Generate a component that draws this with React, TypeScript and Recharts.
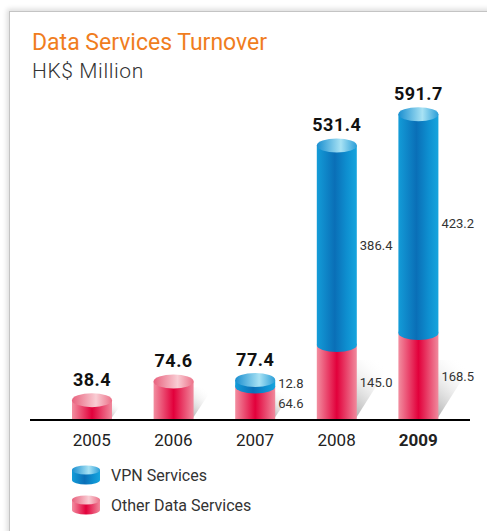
import { BarChart, Bar, XAxis, YAxis, LabelList } from "recharts";

const years = ["2005", "2006", "2007", "2008", "2009"];
const vpnValues = [0, 0, 12.8, 386.4, 423.2];
const otherValues = [38.4, 74.6, 64.6, 145.0, 168.5];
const totals = [38.4, 74.6, 77.4, 531.4, 591.7];
const boldYear = "2009";

const chartData = years.map((year, i) => ({
  year,
  vpn: vpnValues[i],
  other: otherValues[i],
  total: totals[i],
}));

const FONT = "Roboto, 'DejaVu Sans', sans-serif";
const RY = 7;

function Defs() {
  return (
    <defs>
      <linearGradient id="blueBody" x1="0" y1="0" x2="1" y2="0">
        <stop offset="0%" stopColor="#139cd8" />
        <stop offset="45%" stopColor="#0a6fb7" />
        <stop offset="75%" stopColor="#0e8fd0" />
        <stop offset="100%" stopColor="#16a4dd" />
      </linearGradient>
      <linearGradient id="blueTop" x1="0" y1="0" x2="1" y2="0">
        <stop offset="0%" stopColor="#1a8fd0" />
        <stop offset="60%" stopColor="#a8e2f4" />
        <stop offset="100%" stopColor="#2a9ed8" />
      </linearGradient>
      <linearGradient id="redBody" x1="0" y1="0" x2="1" y2="0">
        <stop offset="0%" stopColor="#f28ea0" />
        <stop offset="50%" stopColor="#e2003b" />
        <stop offset="100%" stopColor="#f08a9d" />
      </linearGradient>
      <linearGradient id="redTop" x1="0" y1="0" x2="1" y2="0">
        <stop offset="0%" stopColor="#e8627e" />
        <stop offset="60%" stopColor="#f9cdd4" />
        <stop offset="100%" stopColor="#ec7189" />
      </linearGradient>
      <linearGradient id="shadow" x1="0" y1="1" x2="0.6" y2="0">
        <stop offset="0%" stopColor="#a9a9a9" />
        <stop offset="100%" stopColor="#ffffff" stopOpacity={0} />
      </linearGradient>
    </defs>
  );
}

function OtherShape(props: any) {
  const { x, y, width, height, payload } = props;
  if (!height || height <= 0) return null;
  const cx = x + width / 2;
  const right = x + width;
  const base = y + height;
  const sh = Math.min(60, height * 0.85);
  const isTop = !payload.vpn;
  return (
    <g>
      <polygon
        points={`${right - 2},${base} ${right + sh * 0.6},${base - sh} ${right - 2},${base - sh}`}
        fill="url(#shadow)"
      />
      <rect x={x} y={y} width={width} height={height} fill="url(#redBody)" />
      {isTop && (
        <ellipse cx={cx} cy={y} rx={width / 2} ry={RY} fill="url(#redTop)" />
      )}
    </g>
  );
}

function VpnShape(props: any) {
  const { x, y, width, height } = props;
  if (!height || height <= 0) return null;
  const cx = x + width / 2;
  return (
    <g>
      <ellipse cx={cx} cy={y + height} rx={width / 2} ry={RY} fill="url(#blueBody)" />
      <rect x={x} y={y} width={width} height={height} fill="url(#blueBody)" />
      <ellipse cx={cx} cy={y} rx={width / 2} ry={RY} fill="url(#blueTop)" />
    </g>
  );
}

function YearTick(props: any) {
  const { x, y, payload } = props;
  const bold = payload.value === boldYear;
  return (
    <text
      x={x}
      y={y + 18}
      textAnchor="middle"
      fontFamily={FONT}
      fontSize={17}
      fontWeight={bold ? 700 : 400}
      fill="#222"
    >
      {payload.value}
    </text>
  );
}

function TotalLabel(props: any) {
  const { x, y, width, index } = props;
  return (
    <text
      x={x + width / 2}
      y={y - 14}
      textAnchor="middle"
      fontFamily={FONT}
      fontSize={18}
      fontWeight={700}
      letterSpacing={0.5}
      fill="#111"
    >
      {totals[index].toFixed(1)}
    </text>
  );
}

function SegmentLabel(props: any) {
  const { x, y, width, height, index, value } = props;
  if (!vpnValues[index]) return null;
  return (
    <text
      x={x + width + 3}
      y={y + height / 2}
      dominantBaseline="central"
      fontFamily={FONT}
      fontSize={13}
      fill="#333"
    >
      {Number(value).toFixed(1)}
    </text>
  );
}

function TopLabelSlot(props: any) {
  const { index } = props;
  // totals sit above whichever segment is on top
  if (vpnValues[index]) return <TotalLabel {...props} />;
  return null;
}

function TopLabelOther(props: any) {
  const { index } = props;
  if (!vpnValues[index]) return <TotalLabel {...props} />;
  return null;
}

function LegendIcon({ color }: { color: "blue" | "red" }) {
  return (
    <svg width={30} height={22} style={{ display: "block" }}>
      <Defs />
      <rect x={1} y={6} width={28} height={10} fill={`url(#${color}Body)`} />
      <ellipse cx={15} cy={16} rx={14} ry={4.5} fill={`url(#${color}Body)`} />
      <ellipse cx={15} cy={6} rx={14} ry={4.5} fill={`url(#${color}Top)`} />
    </svg>
  );
}

export default function App() {
  return (
    <div
      style={{
        position: "absolute",
        left: 0,
        top: 0,
        width: 487,
        height: 531,
        background: "#fff",
        overflow: "hidden",
        fontFamily: FONT,
      }}
    >
      <div
        style={{
          position: "absolute",
          left: 9,
          top: 11,
          width: 500,
          height: 560,
          borderLeft: "1px solid #c4c4c4",
          borderTop: "1px solid #c4c4c4",
          boxShadow: "-2px -2px 5px rgba(0,0,0,0.14)",
        }}
      />
      <div
        style={{
          position: "absolute",
          left: 32,
          top: 29,
          fontSize: 23,
          color: "#f07d1e",
          whiteSpace: "nowrap",
        }}
      >
        Data Services Turnover
      </div>
      <div
        style={{
          position: "absolute",
          left: 32,
          top: 59,
          fontSize: 21,
          color: "#333",
          fontWeight: 300,
          letterSpacing: 0.6,
          whiteSpace: "nowrap",
        }}
      >
        HK$ Million
      </div>
      <div style={{ position: "absolute", left: 0, top: 0 }}>
        <BarChart
          width={487}
          height={531}
          data={chartData}
          margin={{ top: 110, right: 17, bottom: 81, left: 30 }}
          barSize={40}
        >
          <Defs />
          <YAxis hide domain={[0, 600]} />
          <Bar
            dataKey="other"
            stackId="a"
            shape={<OtherShape />}
            isAnimationActive={false}
          >
            <LabelList dataKey="other" content={<SegmentLabel />} />
            <LabelList dataKey="other" content={<TopLabelOther />} />
          </Bar>
          <Bar
            dataKey="vpn"
            stackId="a"
            shape={<VpnShape />}
            isAnimationActive={false}
          >
            <LabelList dataKey="vpn" content={<SegmentLabel />} />
            <LabelList dataKey="vpn" content={<TopLabelSlot />} />
          </Bar>
          <XAxis
            dataKey="year"
            height={30}
            padding={{ left: 21, right: 11 }}
            axisLine={{ stroke: "#000", strokeWidth: 2 }}
            tickLine={false}
            tick={<YearTick />}
            interval={0}
          />
        </BarChart>
      </div>
      <div
        style={{
          position: "absolute",
          left: 71,
          top: 464,
          display: "flex",
          flexDirection: "column",
          gap: 8,
          fontSize: 16,
          color: "#333",
        }}
      >
        <div style={{ display: "flex", alignItems: "center", gap: 10 }}>
          <LegendIcon color="blue" />
          <span>VPN Services</span>
        </div>
        <div style={{ display: "flex", alignItems: "center", gap: 10 }}>
          <LegendIcon color="red" />
          <span>Other Data Services</span>
        </div>
      </div>
    </div>
  );
}
